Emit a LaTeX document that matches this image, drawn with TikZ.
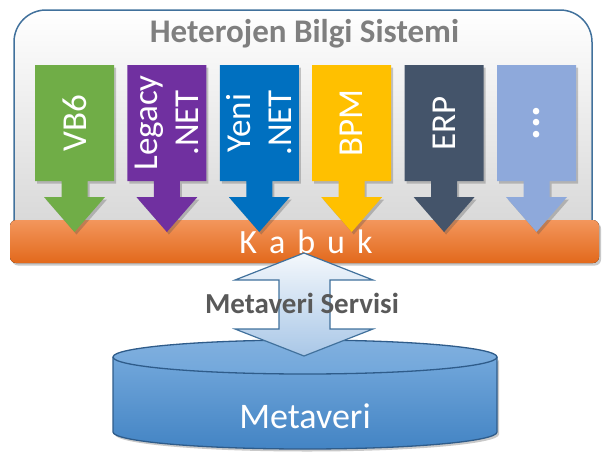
\documentclass[tikz,border=0pt]{standalone}
\usepackage{fontspec}
\setmainfont{Carlito}
\usetikzlibrary{shadows}
\definecolor{frame}{HTML}{41719C}
\definecolor{titlegray}{HTML}{7F7F7F}
\definecolor{textgray}{HTML}{595959}
\definecolor{vbgreen}{HTML}{70AD47}
\definecolor{legpurple}{HTML}{7030A0}
\definecolor{netblue}{HTML}{0070C0}
\definecolor{bpmyellow}{HTML}{FFC000}
\definecolor{erpslate}{HTML}{44546A}
\definecolor{otherblue}{HTML}{8EA9DB}
\definecolor{shelltop}{HTML}{F3965C}
\definecolor{shellmid}{HTML}{F47E2E}
\definecolor{shellbot}{HTML}{E2691C}
\definecolor{dbtop}{HTML}{72A7DB}
\definecolor{dbbot}{HTML}{4384C4}
\definecolor{dbline}{HTML}{2F5C8A}
\definecolor{arrtop}{HTML}{F4F8FC}
\definecolor{arrbot}{HTML}{A9C7E7}
\tikzset{shadowed/.style={drop shadow={shadow xshift=2pt,shadow yshift=-2.5pt,opacity=.3,fill=black!70}}, applabel/.style={rotate=90,text=white,align=center,font=\fontsize{35}{41}\selectfont}, shellbar/.style={rounded corners=6pt,top color=shelltop,middle color=shellmid,bottom color=shellbot,shadowed}, bigtext/.style={anchor=base,font=\fontsize{36}{40}\selectfont,text=white}}
% one application column: box, stem and head
\newcommand{\appbox}[4]{%
\fill[#2,shadowed] (#1-39.5,65) -- (#1+39.5,65) -- (#1+39.5,181) -- (#1+13,181) -- (#1+13,197) -- (#1+30.5,197) -- (#1,232) -- (#1-30.5,197) -- (#1-13,197) -- (#1-13,181) -- (#1-39.5,181) -- cycle;
\node[applabel] (#3) at (#1,123) {#4};}

\begin{document}
\begin{tikzpicture}[x=1pt,y=-1pt]
\useasboundingbox (0,0) rectangle (608,474);
% system frame
\draw[frame,line width=1.5pt,rounded corners=32pt,top color=white,bottom color=black!17] (14,250) -- (14,10) -- (592,10) -- (592,250);
\node[anchor=base,font=\fontsize{33}{38}\selectfont\bfseries,text=titlegray] (baslik) at (304.5,42) {Heterojen Bilgi Sistemi};
% shell
\fill[shellbar] (10,220) rectangle (599,263);
\node[anchor=base,font=\fontsize{34}{38}\selectfont,text=white] (kabuk) at (306,253) {K\kern12pt a\kern12pt b\kern12pt u\kern12pt k};
% applications
\appbox{74.5}{vbgreen}{vb}{VB6}
\appbox{166.9}{legpurple}{legacy}{Legacy\\.NET}
\appbox{259.3}{netblue}{yeni}{Yeni\\.NET}
\appbox{351.7}{bpmyellow}{bpm}{BPM}
\appbox{444.1}{erpslate}{erp}{ERP}
\appbox{536.5}{otherblue}{diger}{\fontsize{44}{44}\selectfont\textbf{...}}
% metadata store
\path[top color=dbtop,bottom color=dbbot,shadowed] (113,357) -- (113,432) arc[start angle=180,end angle=0,x radius=192,y radius=17] -- (497,357) arc[start angle=0,end angle=180,x radius=192,y radius=17] -- cycle;
\draw[dbline,line width=1.3pt] (113,357) -- (113,432) arc[start angle=180,end angle=0,x radius=192,y radius=17] -- (497,357);
\draw[dbline,line width=1.3pt,top color=dbtop!90!white,bottom color=dbtop] (305,357) ellipse[x radius=192,y radius=17];
\node[bigtext] (metaveri) at (305,428) {Metaveri};
% service arrow
\draw[frame,line width=1.2pt,top color=arrtop,bottom color=arrbot] (304,253) -- (373,280) -- (330,280) -- (330,329) -- (373,329) -- (304,356) -- (235,329) -- (279,329) -- (279,280) -- (235,280) -- cycle;
\node[anchor=base,font=\fontsize{29}{34}\selectfont\bfseries,text=textgray] (servis) at (302,313) {Metaveri Servisi};
\end{tikzpicture}
\end{document}
